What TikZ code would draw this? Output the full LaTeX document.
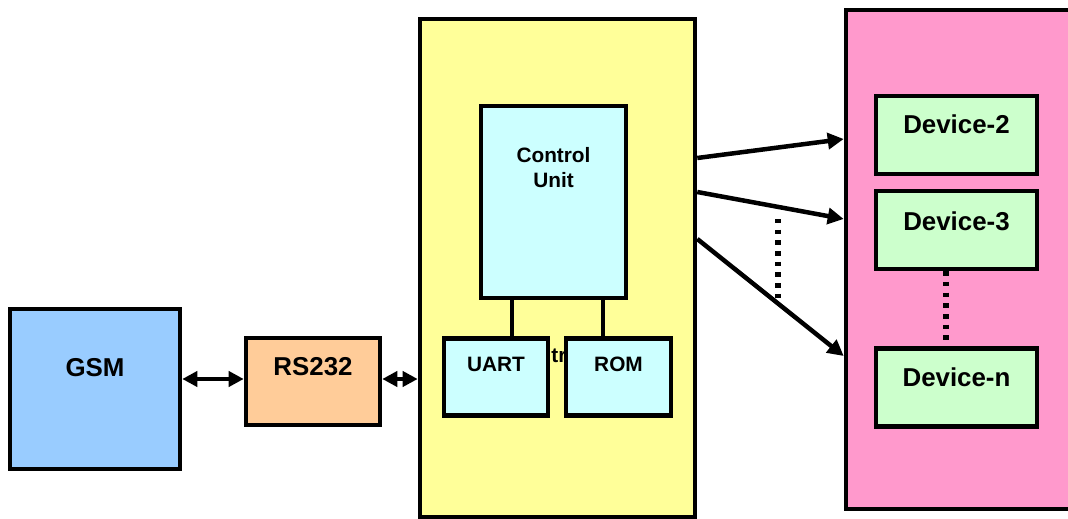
\documentclass[tikz,border=0pt]{standalone}
\usepackage{fontspec}
\setmainfont{Liberation Sans}
\usepackage{tikz}
\usetikzlibrary{arrows.meta,positioning}
\definecolor{gsmblue}{HTML}{99CCFF}
\definecolor{rsorange}{HTML}{FFCC99}
\definecolor{mcuyellow}{HTML}{FFFF99}
\definecolor{cucyan}{HTML}{CCFFFF}
\definecolor{loadpink}{HTML}{FF99CC}
\definecolor{devgreen}{HTML}{CCFFCC}
\tikzset{
    unit/.style={draw, line width=3.2pt, fill=#1, inner sep=0pt},
    biglbl/.style={font=\fontsize{18.4}{22}\selectfont\bfseries, inner sep=0pt},
    smalllbl/.style={font=\fontsize{14.8}{17.7}\selectfont\bfseries,
                     align=center, inner sep=0pt},
}

\begin{document}
\begin{tikzpicture}[
    x=0.025cm, y=-0.025cm,
    arr/.style={-{Triangle[length=4mm,width=4mm]}, line width=3.2pt},
    darr/.style={{Triangle[length=3.8mm,width=3.8mm]}-{Triangle[length=3.8mm,width=3.8mm]},
                 line width=3.2pt},
    dots/.style={line width=4pt, dash pattern=on 3.2pt off 4.4pt}
]
    \clip (0,0) rectangle (1068,519);
    % left side
    \node[unit=gsmblue, minimum width=4.25cm, minimum height=4cm] (gsm) at (95,389) {};
    \node[biglbl] (gsmtxt) at (95,368) {GSM};
    \node[unit=rsorange, minimum width=3.35cm, minimum height=2.175cm] (rs) at (313,381.5) {};
    \node[biglbl] (rstxt) at (313,366.5) {RS232};
    % microcontroller
    \node[unit=mcuyellow, minimum width=6.875cm, minimum height=12.45cm] (mcu) at (557.5,268) {};
    \node[unit=cucyan, minimum width=3.625cm, minimum height=4.8cm] (cu) at (553.5,202) {};
    \node[smalllbl] (cutxt) at (553.5,167.5) {Control\\Unit};
    \node[smalllbl] (hidden) at (559,356) {tr};
    \node[unit=cucyan, minimum width=2.6cm, minimum height=1.925cm] (uart) at (496,377) {};
    \node[smalllbl] (uarttxt) at (496,364.5) {UART};
    \node[unit=cucyan, minimum width=2.625cm, minimum height=1.925cm] (rom) at (618.5,377) {};
    \node[smalllbl] (romtxt) at (618.5,364.5) {ROM};
    \draw[line width=3.2pt] (cu.south -| 512,0) -- (uart.north -| 512,0);
    \draw[line width=3.2pt] (cu.south -| 603,0) -- (rom.north -| 603,0);
    % devices
    \node[unit=loadpink, minimum width=5.8cm, minimum height=12.475cm] (load) at (962,259.5) {};
    \node[unit=devgreen, minimum width=4.025cm, minimum height=1.95cm] (dev2) at (956.5,135) {};
    \node[biglbl] (dev2txt) at (956.5,124) {Device-2};
    \node[unit=devgreen, minimum width=4.025cm, minimum height=1.95cm] (dev3) at (956.5,230) {};
    \node[biglbl] (dev3txt) at (956.5,221) {Device-3};
    \node[unit=devgreen, minimum width=4.025cm, minimum height=1.95cm] (devn) at (956.5,387.5) {};
    \node[biglbl] (devntxt) at (956.5,377) {Device-n};
    \draw[dots] (dev3.south -| 946,0) -- (devn.north -| 946,0);
    % links
    \draw[darr] (gsm.east |- 0,379) -- (rs.west |- 0,379);
    \draw[darr] (rs.east |- 0,379) -- (mcu.west |- 0,379);
    \draw[arr] (mcu.east |- 0,158) -- (load.west |- 0,139);
    \draw[arr] (mcu.east |- 0,192) -- (load.west |- 0,219);
    \draw[arr] (mcu.east |- 0,239) -- (load.west |- 0,356);
    \coordinate (gaptop) at (778,219);
    \coordinate (gapbot) at (778,298);
    \draw[dots] (gaptop) -- (gapbot);
\end{tikzpicture}
\end{document}
